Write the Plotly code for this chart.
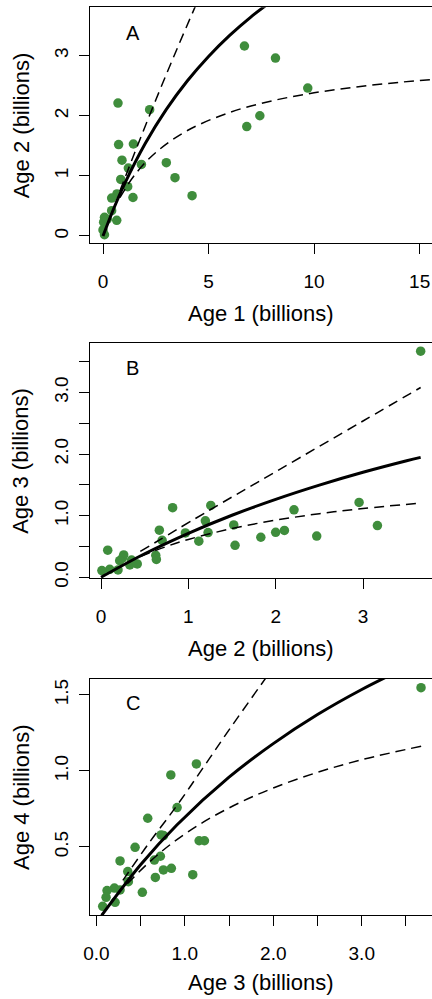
import plotly.graph_objects as go

# ---------------- data ----------------
# Panel A: Age 1 vs Age 2
a_x = [0.71, 2.21, 6.70, 6.81, 7.43, 8.17, 9.70, 0.74, 1.44, 0.90, 1.82, 3.00, 3.41, 4.22,
       1.20, 0.84, 1.17, 1.42, 0.66, 0.41, 0.41, 0.07, 0.65, 0.03, 0.07, 0.00, 0.20]
a_y = [2.21, 2.10, 3.16, 1.82, 2.00, 2.96, 2.46, 1.52, 1.53, 1.26, 1.19, 1.22, 0.97, 0.67,
       1.13, 0.94, 0.82, 0.64, 0.70, 0.63, 0.42, 0.31, 0.26, 0.23, 0.02, 0.10, 0.28]
a_fit_x = [0, 0.5, 1, 2, 3, 4, 5, 6, 7, 8]
a_fit_y = [0, 0.449, 0.850, 1.537, 2.105, 2.582, 2.987, 3.337, 3.642, 3.909]
a_up_x = [0.8, 1.5, 2.5, 3.5, 4.5]
a_up_y = [0.748, 1.383, 2.262, 3.107, 3.922]
a_lo_x = [0.8, 1.5, 2.5, 4, 6, 8, 10, 12, 14, 16]
a_lo_y = [0.637, 1.014, 1.389, 1.754, 2.055, 2.247, 2.381, 2.479, 2.555, 2.614]

# Panel B: Age 2 vs Age 3
b_x = [3.66, 2.955, 3.165, 2.21, 2.47, 2.10, 2.00, 1.83, 1.535, 1.52, 1.257, 1.195, 1.226,
       1.12, 0.966, 0.82, 0.668, 0.70, 0.627, 0.634, 0.077, 0.26, 0.245, 0.214, 0.35, 0.33,
       0.415, 0.195, 0.10, 0.01]
b_y = [3.67, 1.215, 0.84, 1.096, 0.67, 0.76, 0.73, 0.65, 0.52, 0.85, 1.166, 0.917, 0.726,
       0.586, 0.72, 1.13, 0.765, 0.60, 0.358, 0.29, 0.44, 0.363, 0.31, 0.27, 0.28, 0.20,
       0.217, 0.12, 0.13, 0.11]
b_fit_x = [0, 0.5, 1, 1.5, 2, 2.5, 3, 3.5, 3.66]
b_fit_y = [0, 0.382, 0.714, 1.007, 1.265, 1.496, 1.704, 1.891, 1.946]
b_up_x = [0.45, 1.25, 2, 3, 3.66]
b_up_y = [0.42, 1.096, 1.713, 2.536, 3.08]
b_lo_x = [0.45, 0.75, 1, 1.5, 2, 2.5, 3, 3.66]
b_lo_y = [0.337, 0.501, 0.614, 0.792, 0.927, 1.032, 1.116, 1.205]

# Panel C: Age 3 vs Age 4
c_x = [3.67, 1.131, 0.842, 0.913, 0.581, 0.732, 0.76, 0.438, 1.162, 1.222, 0.268, 0.656,
       0.724, 0.355, 0.758, 0.848, 1.09, 0.667, 0.52, 0.362, 0.204, 0.121, 0.11, 0.212,
       0.072, 0.268]
c_y = [1.548, 1.046, 0.974, 0.759, 0.689, 0.579, 0.575, 0.498, 0.541, 0.541, 0.408, 0.414,
       0.439, 0.338, 0.349, 0.36, 0.318, 0.30, 0.202, 0.272, 0.23, 0.213, 0.169, 0.136,
       0.11, 0.217]
c_fit_x = [0.06, 0.5, 0.91, 1.5, 2, 2.5, 3, 3.5]
c_fit_y = [0.05, 0.383, 0.645, 0.959, 1.18, 1.371, 1.536, 1.681]
c_up_x = [0.3, 0.6, 0.92, 1.2, 1.5, 1.95]
c_up_y = [0.28, 0.53, 0.78, 1.015, 1.27, 1.64]
c_lo_x = [0.35, 0.6, 0.85, 1.2, 1.6, 2.0, 2.5, 3.0, 3.68]
c_lo_y = [0.258, 0.401, 0.522, 0.660, 0.786, 0.888, 0.991, 1.074, 1.164]

panel_letters = ["A", "B", "C"]
x_titles = ["Age 1 (billions)", "Age 2 (billions)", "Age 3 (billions)"]
y_titles = ["Age 2 (billions)", "Age 3 (billions)", "Age 4 (billions)"]

a_xticks = [0, 5, 10, 15]
a_xlabels = ["0", "5", "10", "15"]
a_yticks = [0, 1, 2, 3]
a_ylabels = ["0", "1", "2", "3"]
b_xticks = [0, 1, 2, 3]
b_xlabels = ["0", "1", "2", "3"]
b_yticks = [0, 0.5, 1, 1.5, 2, 2.5, 3, 3.5]
b_ylabels = ["0.0", "", "1.0", "", "2.0", "", "3.0", ""]
c_xticks = [0, 0.5, 1, 1.5, 2, 2.5, 3, 3.5]
c_xlabels = ["0.0", "", "1.0", "", "2.0", "", "3.0", ""]
c_yticks = [0.5, 1.0, 1.5]
c_ylabels = ["0.5", "1.0", "1.5"]

# ---------------- styling ----------------
W, H = 432, 999
GREEN = "#3f8d3c"
FONT = "Liberation Sans, Arial, Helvetica, sans-serif"
DASH = "10px,6px"

fig = go.Figure()

panels = [
    dict(sx=a_x, sy=a_y, fx=a_fit_x, fy=a_fit_y, ux=a_up_x, uy=a_up_y, lx=a_lo_x, ly=a_lo_y,
         xr=[-0.616, 15.585], yr=[-0.122, 3.804], top=7.3, bot=243.3,
         xt=a_xticks, xl=a_xlabels, yt=a_yticks, yl=a_ylabels, lab=(1.42, 3.38), xtitle_y=313.7),
    dict(sx=b_x, sy=b_y, fx=b_fit_x, fy=b_fit_y, ux=b_up_x, uy=b_up_y, lx=b_lo_x, ly=b_lo_y,
         xr=[-0.126, 3.79], yr=[-0.016, 3.797], top=343.3, bot=578.3,
         xt=b_xticks, xl=b_xlabels, yt=b_yticks, yl=b_ylabels, lab=(0.363, 3.40), xtitle_y=648.3),
    dict(sx=c_x, sy=c_y, fx=c_fit_x, fy=c_fit_y, ux=c_up_x, uy=c_up_y, lx=c_lo_x, ly=c_lo_y,
         xr=[-0.0716, 3.794], yr=[0.0526, 1.605], top=679.0, bot=915.0,
         xt=c_xticks, xl=c_xlabels, yt=c_yticks, yl=c_ylabels, lab=(0.411, 1.445), xtitle_y=982.5),
]

left = 90 / W
annotations = []
for i, p in enumerate(panels):
    n = "" if i == 0 else str(i + 1)
    xa, ya = "x" + n, "y" + n
    fig.add_trace(go.Scatter(x=p["sx"], y=p["sy"], mode="markers", xaxis=xa, yaxis=ya,
                             marker=dict(color=GREEN, size=9.5, line=dict(width=0)),
                             cliponaxis=False, showlegend=False, hoverinfo="skip"))
    fig.add_trace(go.Scatter(x=p["fx"], y=p["fy"], mode="lines", xaxis=xa, yaxis=ya,
                             line=dict(color="black", width=3, shape="spline"),
                             showlegend=False, hoverinfo="skip"))
    for kx, ky in (("ux", "uy"), ("lx", "ly")):
        fig.add_trace(go.Scatter(x=p[kx], y=p[ky], mode="lines", xaxis=xa, yaxis=ya,
                                 line=dict(color="black", width=1.5, dash=DASH, shape="spline"),
                                 showlegend=False, hoverinfo="skip"))
    ydom = [(H - p["bot"]) / H, (H - p["top"]) / H]
    axis_common = dict(showline=True, linecolor="black", linewidth=1, ticks="outside",
                       ticklen=10, tickwidth=1, tickcolor="black", showgrid=False,
                       zeroline=False, tickfont=dict(family=FONT, size=19, color="black"),
                       fixedrange=True, automargin=False)
    fig.update_layout(**{
        "xaxis" + n: dict(domain=[left, 1], anchor=ya, range=p["xr"], mirror=True,
                          tickmode="array", tickvals=p["xt"], ticktext=p["xl"],
                          ticklabelstandoff=11, **axis_common),
        "yaxis" + n: dict(domain=ydom, anchor=xa, range=p["yr"], tickangle=-90,
                          tickmode="array", tickvals=p["yt"], ticktext=p["yl"],
                          ticklabelstandoff=3, **axis_common),
    })
    annotations.append(dict(text=panel_letters[i], x=p["lab"][0], y=p["lab"][1], xref=xa, yref=ya,
                            showarrow=False, font=dict(family=FONT, size=20, color="black"),
                            xanchor="center", yanchor="middle"))
    annotations.append(dict(text=x_titles[i], x=261 / W, y=(H - p["xtitle_y"]) / H,
                            xref="paper", yref="paper", showarrow=False,
                            font=dict(family=FONT, size=22, color="black"),
                            xanchor="center", yanchor="middle"))
    annotations.append(dict(text=y_titles[i], x=21 / W, y=(H - (p["top"] + p["bot"]) / 2) / H,
                            xref="paper", yref="paper", showarrow=False, textangle=-90,
                            font=dict(family=FONT, size=22, color="black"),
                            xanchor="center", yanchor="middle"))

fig.update_layout(width=W, height=H, margin=dict(l=0, r=0, t=0, b=0, autoexpand=False),
                  paper_bgcolor="white", plot_bgcolor="white",
                  annotations=annotations, showlegend=False)

fig.write_html("out.html", config={"displayModeBar": False},
               post_script="document.body.style.margin='0';document.body.style.overflow='hidden';")
